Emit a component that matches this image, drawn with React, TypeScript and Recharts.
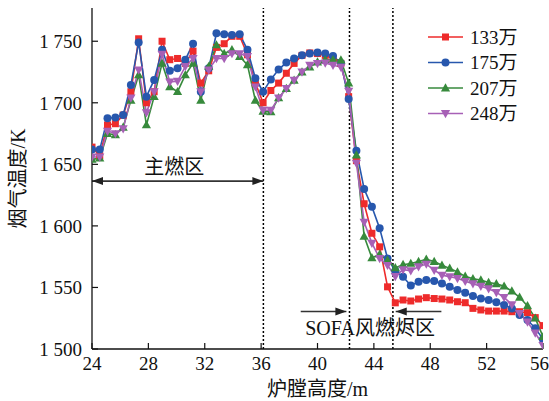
import React from 'react';
import { LineChart, Line, XAxis, YAxis, ReferenceLine, ReferenceDot, Legend } from 'recharts';

const heights = [24.00, 24.55, 25.10, 25.66, 26.21, 26.76, 27.31, 27.86, 28.41, 28.97, 29.52, 30.07, 30.62, 31.17, 31.72, 32.28, 32.83, 33.38, 33.93, 34.48, 35.03, 35.59, 36.14, 36.69, 37.24, 37.79, 38.34, 38.90, 39.45, 40.00, 40.55, 41.10, 41.66, 42.21, 42.76, 43.31, 43.86, 44.41, 44.97, 45.52, 46.07, 46.62, 47.17, 47.72, 48.28, 48.83, 49.38, 49.93, 50.48, 51.03, 51.59, 52.14, 52.69, 53.24, 53.79, 54.34, 54.90, 55.45, 56.00];

const t133 = [1664, 1657, 1682, 1683, 1690, 1709, 1752, 1700, 1709, 1750,
  1735, 1736, 1732, 1742, 1716, 1726, 1745, 1748, 1754, 1754,
  1739, 1716, 1700, 1710, 1716, 1724, 1732, 1738.5, 1740.5, 1740,
  1738.5, 1736, 1732, 1705, 1653, 1618, 1594, 1583, 1550.5, 1537.5,
  1539.8, 1539, 1540.6, 1541.7, 1541, 1540.6, 1539.8, 1538.4, 1537.6, 1533,
  1531.7, 1530.8, 1530.8, 1530.8, 1530.3, 1530.3, 1529.5, 1525.5, 1519];

const t175 = [1662, 1662, 1687.5, 1688, 1690, 1714.5, 1749, 1705, 1718.6, 1743,
  1726, 1728, 1735, 1748, 1709, 1728, 1756.5, 1755.7, 1755, 1755.7,
  1743, 1720, 1709, 1719, 1727, 1732.7, 1736, 1738.6, 1740, 1740.8,
  1740, 1738, 1732.4, 1703, 1661, 1630, 1615.5, 1598, 1573.6, 1563.5,
  1558.7, 1551.5, 1554.6, 1556, 1555.2, 1553.3, 1550.6, 1547.9, 1545.7, 1543,
  1541.1, 1539.8, 1537.9, 1535.7, 1533, 1527.6, 1523.5, 1516.8, 1508];

const t207 = [1654, 1655, 1675, 1674, 1680, 1702, 1722.6, 1682, 1705, 1732,
  1713, 1709, 1722.6, 1732, 1702, 1729.5, 1747, 1740, 1743, 1737.6,
  1730.8, 1702, 1693, 1692.6, 1704, 1711.6, 1718.3, 1725, 1729, 1733,
  1735, 1735, 1734.7, 1716, 1657.5, 1591.5, 1574, 1577, 1572, 1566,
  1568.5, 1569.5, 1571, 1572.8, 1571, 1568, 1565.5, 1562.5, 1559, 1557,
  1556, 1554, 1553, 1551, 1547, 1542, 1535, 1525, 1510];

const t248 = [1656, 1656, 1677, 1675, 1679, 1704, 1726.7, 1692, 1709, 1739.5,
  1717, 1717.5, 1729.5, 1736, 1709, 1726.7, 1736, 1736, 1740, 1740,
  1737.6, 1713, 1694, 1694, 1704, 1711.6, 1718.3, 1725, 1730.5, 1732,
  1732.4, 1730.5, 1729, 1709.4, 1651, 1603, 1586, 1573.6, 1568, 1559,
  1564.5, 1563.6, 1566.8, 1569, 1564, 1560, 1558.7, 1557.4, 1555, 1553,
  1551, 1549, 1546, 1542, 1536, 1529, 1522, 1513, 1503];

const seriesNames = ['133万', '175万', '207万', '248万'];
const xTicks = [24, 28, 32, 36, 40, 44, 48, 52, 56];
const yTicks = [1500, 1550, 1600, 1650, 1700, 1750];
const zoneBounds = [36.16, 42.27, 45.35];

const RED = '#ee2b2b';
const BLUE = '#2757ad';
const GREEN = '#378a3c';
const PURPLE = '#a760b6';
const FONT = '"Liberation Serif", "Times New Roman", "Noto Sans CJK SC", serif';

const data = heights.map((h, i) => ({ h, a: t133[i], b: t175[i], c: t207[i], d: t248[i] }));

type Shape = 'square' | 'circle' | 'up' | 'down';
const series: { key: string; name: string; color: string; shape: Shape }[] = [
  { key: 'a', name: seriesNames[0], color: RED, shape: 'square' },
  { key: 'b', name: seriesNames[1], color: BLUE, shape: 'circle' },
  { key: 'c', name: seriesNames[2], color: GREEN, shape: 'up' },
  { key: 'd', name: seriesNames[3], color: PURPLE, shape: 'down' },
];

function marker(shape: Shape, cx: number, cy: number, color: string, key?: any) {
  if (shape === 'square') return <rect key={key} x={cx - 3.5} y={cy - 3.5} width={7} height={7} fill={color} />;
  if (shape === 'circle') return <circle key={key} cx={cx} cy={cy} r={4} fill={color} />;
  if (shape === 'up') return <polygon key={key} points={`${cx},${cy - 4.8} ${cx - 4.6},${cy + 3.4} ${cx + 4.6},${cy + 3.4}`} fill={color} />;
  return <polygon key={key} points={`${cx},${cy + 4.8} ${cx - 4.6},${cy - 3.4} ${cx + 4.6},${cy - 3.4}`} fill={color} />;
}

const makeDot = (shape: Shape, color: string) => (props: any) => {
  const { cx, cy, key, index } = props;
  if (cx == null || cy == null) return <g key={key ?? index} />;
  return marker(shape, cx, cy, color, key ?? index);
};

const makeArrow = (both: boolean) => (props: any) => {
  const { x1, y1, x2, y2 } = props;
  const dx = x2 - x1;
  const dy = y2 - y1;
  const len = Math.sqrt(dx * dx + dy * dy) || 1;
  const ux = dx / len;
  const uy = dy / len;
  const hl = 11;
  const hw = 4;
  const head = (px: number, py: number, dirx: number, diry: number) => {
    const bx = px - dirx * hl;
    const by = py - diry * hl;
    return `${px},${py} ${bx - diry * hw},${by + dirx * hw} ${bx + diry * hw},${by - dirx * hw}`;
  };
  return (
    <g>
      <line x1={x1} y1={y1} x2={x2} y2={y2} stroke="#333" strokeWidth={1.6} />
      <polygon points={head(x2, y2, ux, uy)} fill="#222" />
      {both && <polygon points={head(x1, y1, -ux, -uy)} fill="#222" />}
    </g>
  );
};

const renderLegend = () => (
  <svg width={120} height={110} style={{ display: 'block' }}>
    {series.map((s, i) => {
      const cy = 12 + i * 25.5;
      return (
        <g key={s.key}>
          <line x1={6} y1={cy} x2={41} y2={cy} stroke={s.color} strokeWidth={1.6} />
          {marker(s.shape, 23.5, cy, s.color)}
          <text x={48} y={cy + 6.5} fontSize={19} fontFamily={FONT} fill="#111">{s.name}</text>
        </g>
      );
    })}
  </svg>
);

const YLabel = (props: any) => {
  const vb = props.viewBox || { x: 0, y: 0, width: 92, height: 341 };
  const cx = vb.x + 18;
  const cy = vb.y + vb.height / 2;
  return (
    <text x={cx} y={cy} transform={`rotate(-90, ${cx}, ${cy})`} textAnchor="middle" dominantBaseline="central" fontSize={20} fontFamily={FONT} fill="#111">烟气温度/K</text>
  );
};

const XLabel = (props: any) => {
  const vb = props.viewBox || { x: 92, y: 349, width: 451, height: 52 };
  return (
    <text x={vb.x + vb.width / 2} y={vb.y + 47} textAnchor="middle" fontSize={20} fontFamily={FONT} fill="#111">炉膛高度/m</text>
  );
};

const fmtY = (v: number) => {
  const s = String(v);
  return s.length === 4 ? `${s[0]} ${s.slice(1)}` : s;
};

export default function App() {
  return (
    <div style={{ position: 'absolute', left: 0, top: 0 }}>
      <LineChart width={549} height={401} data={data} margin={{ top: 8, right: 6, left: 0, bottom: 0 }}>
        <XAxis
          dataKey="h"
          type="number"
          domain={[24, 56]}
          ticks={xTicks}
          allowDataOverflow
          height={52}
          tickSize={-6}
          tickMargin={14}
          tick={{ fill: '#111', fontSize: 19, fontFamily: FONT }}
          axisLine={{ stroke: '#111', strokeWidth: 1.3 }}
          tickLine={{ stroke: '#111', strokeWidth: 1.2 }}
          label={<XLabel />}
        />
        <XAxis
          xAxisId="top"
          orientation="top"
          type="number"
          domain={[24, 56]}
          height={0}
          tick={false}
          tickLine={false}
          axisLine={{ stroke: '#111', strokeWidth: 1.3 }}
        />
        <YAxis
          type="number"
          domain={[1500, 1777]}
          ticks={yTicks}
          allowDataOverflow
          width={92}
          tickSize={-6}
          tickMargin={16}
          tickFormatter={fmtY}
          tick={{ fill: '#111', fontSize: 19, fontFamily: FONT }}
          axisLine={{ stroke: '#111', strokeWidth: 1.3 }}
          tickLine={{ stroke: '#111', strokeWidth: 1.2 }}
          label={<YLabel />}
        />
        <YAxis
          yAxisId="right"
          orientation="right"
          type="number"
          domain={[1500, 1777]}
          width={0}
          tick={false}
          tickLine={false}
          axisLine={{ stroke: '#111', strokeWidth: 1.3 }}
        />
        {zoneBounds.map((b) => (
          <ReferenceLine key={b} x={b} stroke="#000" strokeWidth={1.5} strokeDasharray="2 2" />
        ))}
        <ReferenceLine segment={[{ x: 24, y: 1636.4 }, { x: 36.16, y: 1636.4 }]} shape={makeArrow(true)} />
        <ReferenceLine segment={[{ x: 38.81, y: 1530.5 }, { x: 42.05, y: 1530.5 }]} shape={makeArrow(false)} />
        <ReferenceLine segment={[{ x: 48.79, y: 1530.5 }, { x: 45.55, y: 1530.5 }]} shape={makeArrow(false)} />
        <ReferenceDot x={29.84} y={1648} r={0} fill="none" stroke="none"
          label={{ value: '主燃区', position: 'center', fontSize: 20, fontFamily: FONT, fill: '#111' }} />
        <ReferenceDot x={43.73} y={1517} r={0} fill="none" stroke="none"
          label={{ value: 'SOFA风燃烬区', position: 'center', fontSize: 20, fontFamily: FONT, fill: '#111' }} />
        {series.map((s) => (
          <Line
            key={s.key}
            dataKey={s.key}
            name={s.name}
            stroke={s.color}
            strokeWidth={1.6}
            dot={makeDot(s.shape, s.color)}
            activeDot={false}
            isAnimationActive={false}
          />
        ))}
        <Legend
          layout="vertical"
          align="center"
          verticalAlign="middle"
          content={renderLegend}
          wrapperStyle={{ left: 422, top: 25, width: 120, height: 110 }}
        />
      </LineChart>
    </div>
  );
}
